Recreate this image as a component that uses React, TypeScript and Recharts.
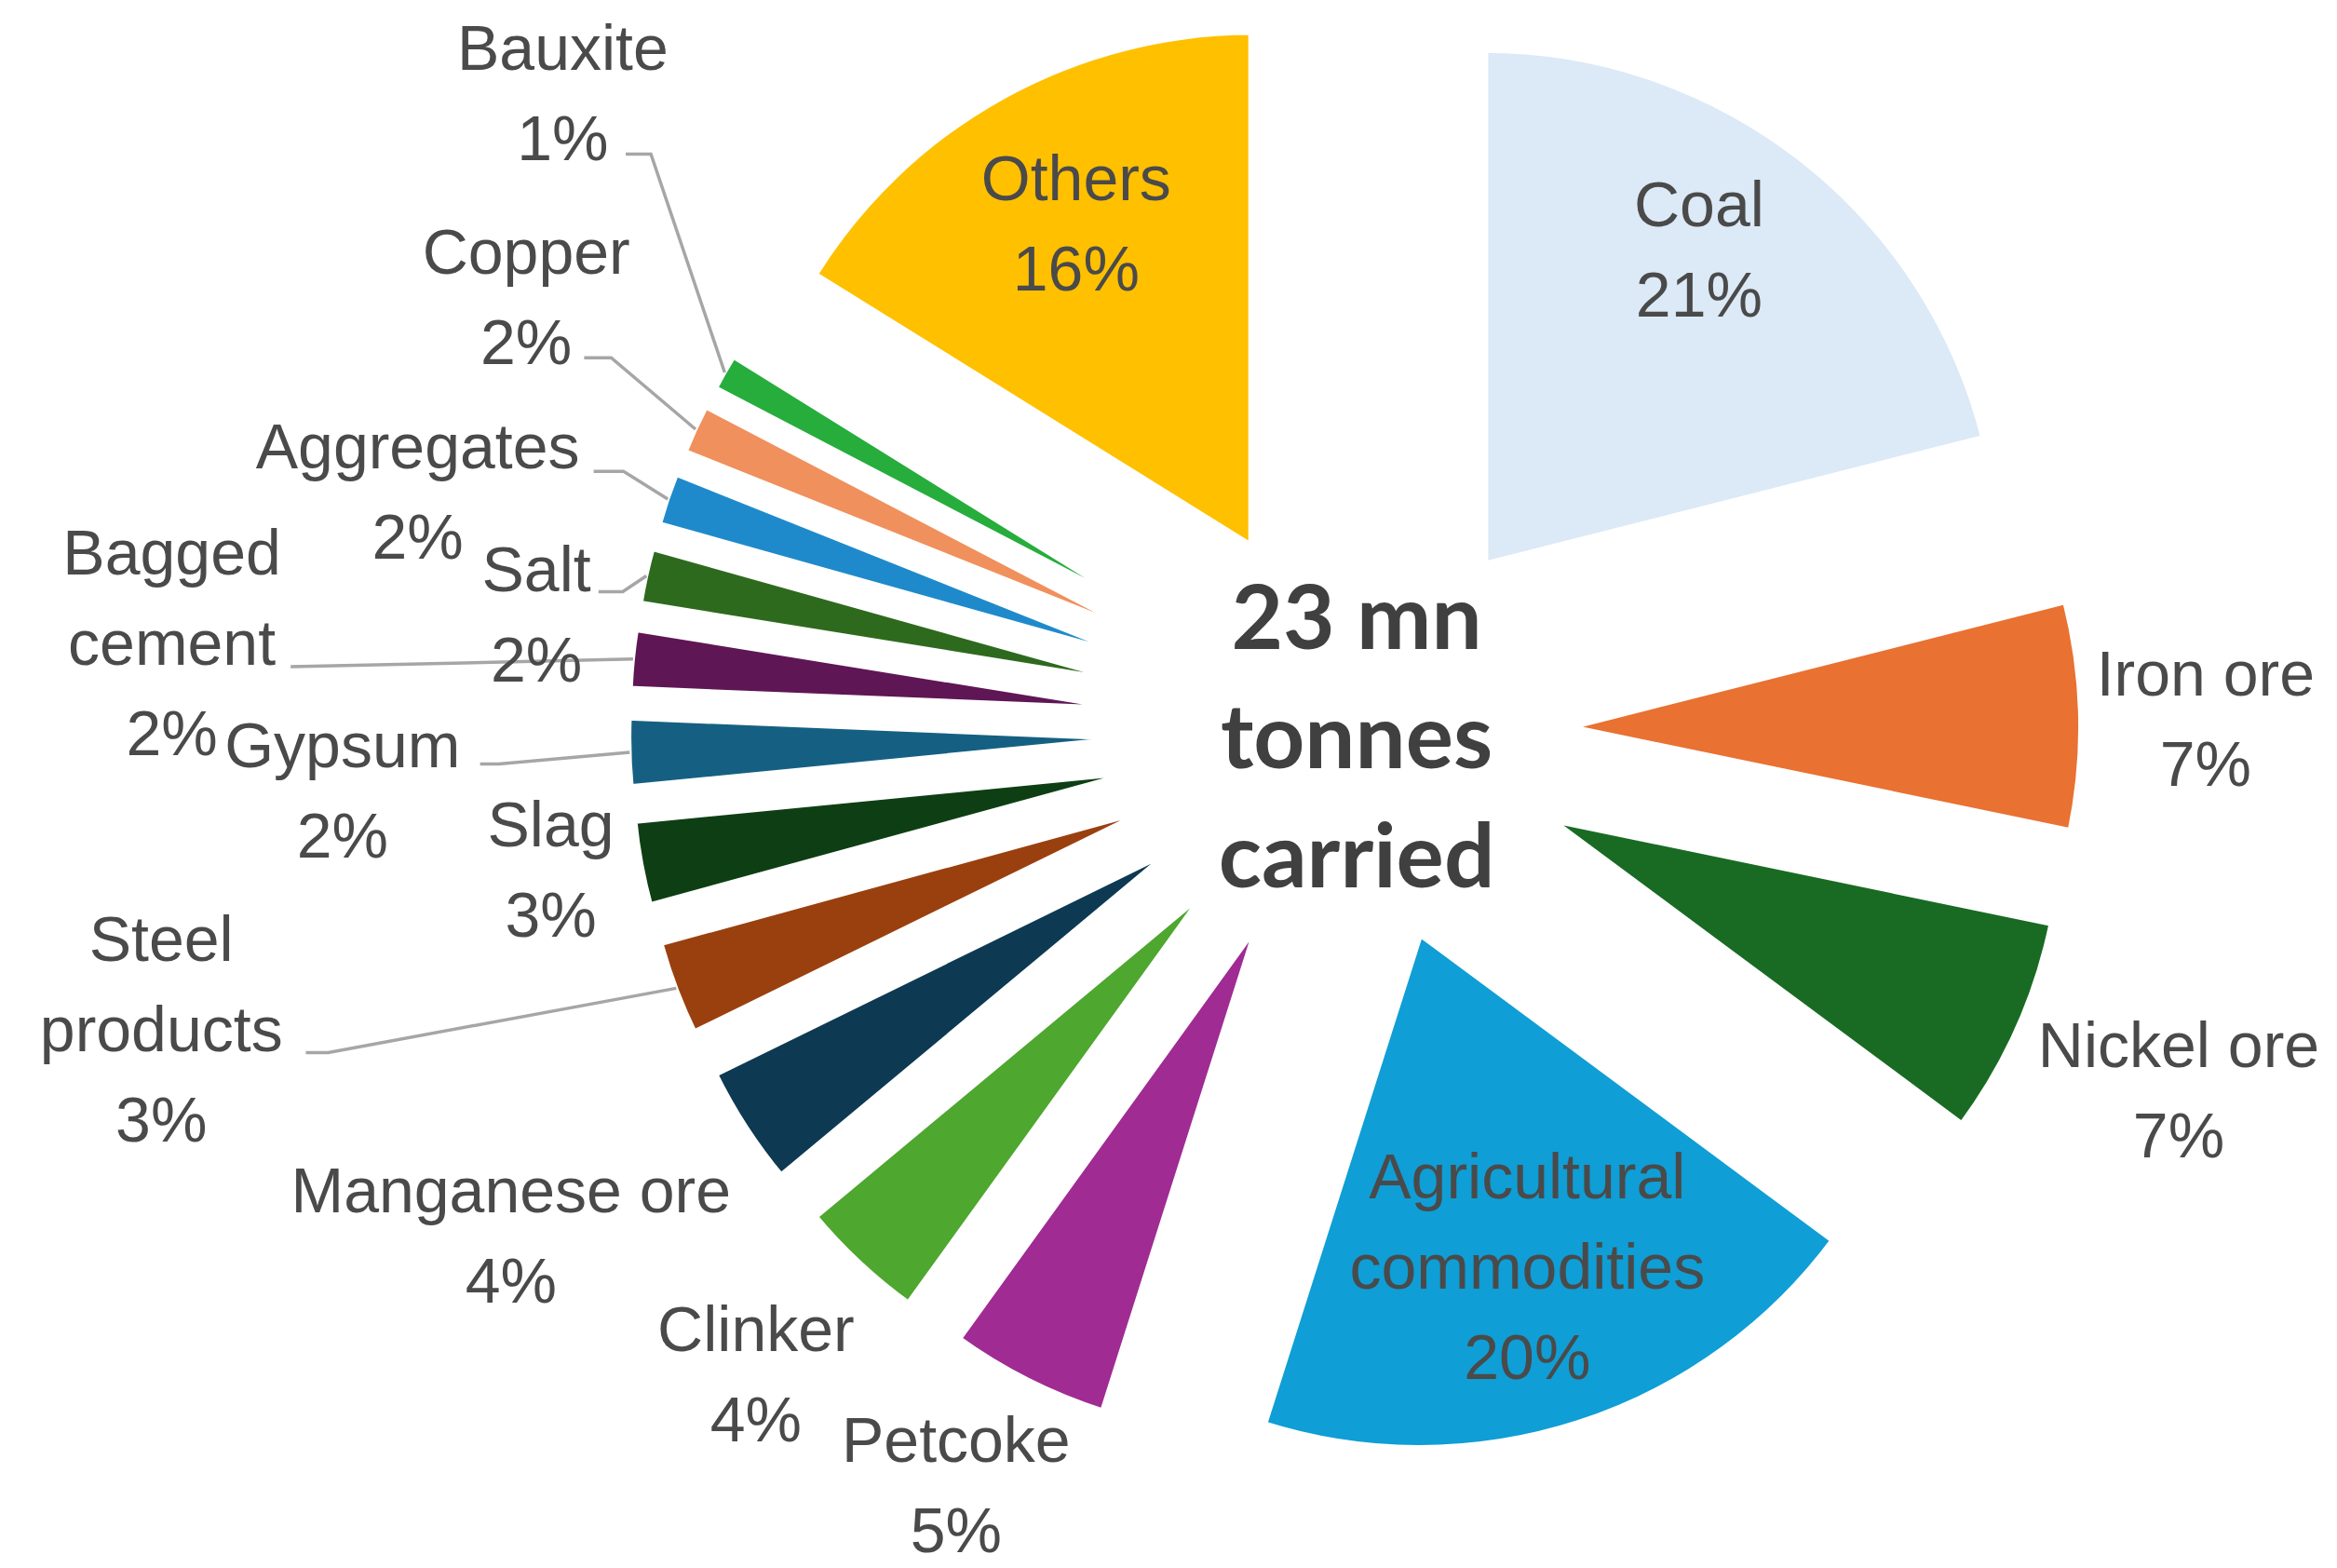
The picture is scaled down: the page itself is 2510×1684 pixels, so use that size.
import React from 'react';
import { PieChart, Pie } from 'recharts';

// ---------- data ----------
const categories = [
  'Coal', 'Iron ore', 'Nickel ore', 'Agricultural commodities', 'Petcoke', 'Clinker',
  'Manganese ore', 'Steel products', 'Slag', 'Gypsum', 'Bagged cement', 'Salt',
  'Aggregates', 'Copper', 'Bauxite', 'Others',
];
// share of the 23 mn tonnes carried (%)
const shares = [21.05, 7.2, 6.9, 19.75, 5.05, 4.0, 3.8, 3.0, 2.7, 2.2, 1.9, 1.8, 1.7, 1.6, 1.2, 16.15];
const labelLines = [
  ['Coal'], ['Iron ore'], ['Nickel ore'], ['Agricultural', 'commodities'], ['Petcoke'], ['Clinker'],
  ['Manganese ore'], ['Steel', 'products'], ['Slag'], ['Gypsum'], ['Bagged', 'cement'], ['Salt'],
  ['Aggregates'], ['Copper'], ['Bauxite'], ['Others'],
];
const colors = [
  '#DCE9F6', '#E97132', '#196B24', '#0F9ED5', '#A02B93', '#4EA72E',
  '#0D3A52', '#9A400F', '#0E3F14', '#156082', '#5F1655', '#2E6A1E',
  '#1F8ACB', '#F0905C', '#26AD3C', '#FFC000',
];
const centerTitle = ['23 mn', 'tonnes', 'carried'];

// ---------- layout ----------
const W = 2510;
const H = 1684;
const CX = 1455;
const CY = 786;
const RADIUS = 554;
const EXPLODE = 227;
const FONT = "'Liberation Sans', Arial, sans-serif";
const LABEL_SIZE = 68;
const LINE_H = 97;
const LABEL_COLOR = '#4a4a4a';
// label block centre: [distance from pie centre, angle clockwise from 12 o'clock]
const labelPolar: [number, number][] = [
  [637, 35.5], [914, 89.1], [965, 113.5], [603, 162.1], [915, 207.9], [943, 223.0],
  [1055, 239.2], [1321, 256.0], [876, 260.3], [1089, 266.7], [1274, 274.3], [888, 278.2],
  [1039, 284.4], [1005, 297.7], [1093, 308.9], [623, 331.3],
];
// leader line start [distance, angle, horizontal elbow length] or null
const leaderPolar: ([number, number, number] | null)[] = [
  null, null, null, null, null, null,
  null, [1178, 253.0, 24], null, [940, 267.9, 20], [1145, 273.5, 0], [826, 280.5, 26],
  [864, 288.9, 32], [920, 295.9, 29], [999, 308.4, 27], null,
];

const RAD = Math.PI / 180;
const total = shares.reduce((a, b) => a + b, 0);
const fromTop = (r: number, a: number) => ({ x: CX + r * Math.sin(a * RAD), y: CY - r * Math.cos(a * RAD) });

const slices = shares.map((v, i) => {
  const before = shares.slice(0, i).reduce((a, b) => a + b, 0);
  const a0 = (before / total) * 360;
  const a1 = ((before + v) / total) * 360;
  const mid = (a0 + a1) / 2;
  return {
    i,
    startAngle: 90 - a0,
    endAngle: 90 - a1,
    cx: CX + EXPLODE * Math.sin(mid * RAD),
    cy: CY - EXPLODE * Math.cos(mid * RAD),
  };
});

function makeLabel(i: number) {
  return (props: any) => {
    const { cx, cy, midAngle, outerRadius } = props;
    const pct = Math.round((shares[i] / total) * 100) + '%';
    const lines = [...labelLines[i], pct];
    const p = fromTop(labelPolar[i][0], labelPolar[i][1]);
    const n = lines.length;
    const leader = leaderPolar[i];
    let path: string | null = null;
    if (leader) {
      const s = fromTop(leader[0], leader[1]);
      const ex = cx + (outerRadius - 2) * Math.cos(-midAngle * RAD);
      const ey = cy + (outerRadius - 2) * Math.sin(-midAngle * RAD);
      path = `M${s.x},${s.y} L${s.x + leader[2]},${s.y} L${ex},${ey}`;
    }
    return (
      <g key={`lab-${i}`}>
        {path && <path d={path} stroke="#a6a6a6" strokeWidth={3.5} fill="none" />}
        <text textAnchor="middle" fontFamily={FONT} fontSize={LABEL_SIZE} fill={LABEL_COLOR}>
          {lines.map((ln, k) => (
            <tspan key={k} x={p.x} y={p.y + (k - (n - 1) / 2) * LINE_H + LABEL_SIZE * 0.35}>
              {ln}
            </tspan>
          ))}
        </text>
      </g>
    );
  };
}

export default function App() {
  return (
    <div style={{ position: 'absolute', left: 0, top: 0, width: W, height: H, background: '#ffffff' }}>
      <PieChart width={W} height={H} margin={{ top: 0, right: 0, bottom: 0, left: 0 }}>
        {slices.map((s) => (
          <Pie
            key={categories[s.i]}
            data={[{ name: categories[s.i], value: shares[s.i] }]}
            dataKey="value"
            nameKey="name"
            cx={s.cx}
            cy={s.cy}
            startAngle={s.startAngle}
            endAngle={s.endAngle}
            innerRadius={0}
            outerRadius={RADIUS}
            fill={colors[s.i]}
            stroke="#ffffff"
            strokeWidth={8}
            label={makeLabel(s.i)}
            labelLine={false}
            isAnimationActive={false}
          />
        ))}
        <text textAnchor="middle" fontFamily="Lato, 'Open Sans', sans-serif" fontWeight={700} fontSize={96} fill="#404040">
          {centerTitle.map((t, k) => (
            <tspan key={k} x={1457} y={697 + k * 128}>
              {t}
            </tspan>
          ))}
        </text>
      </PieChart>
    </div>
  );
}
